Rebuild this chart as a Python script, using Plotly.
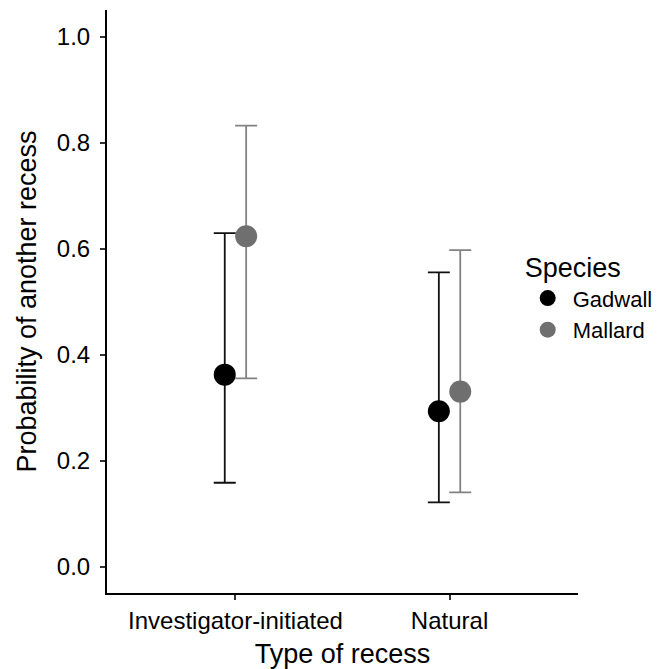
import plotly.graph_objects as go

categories = ["Investigator-initiated", "Natural"]
species = ["Gadwall", "Mallard"]
estimate = {"Gadwall": [0.362, 0.293], "Mallard": [0.623, 0.330]}
lower = {"Gadwall": [0.158, 0.121], "Mallard": [0.355, 0.140]}
upper = {"Gadwall": [0.629, 0.555], "Mallard": [0.832, 0.597]}
y_ticks = [0.0, 0.2, 0.4, 0.6, 0.8, 1.0]

marker_colors = {"Gadwall": "#000000", "Mallard": "#6f6f6f"}
bar_colors = {"Gadwall": "#111111", "Mallard": "#828282"}
dodge = {"Gadwall": -0.05, "Mallard": 0.05}

FONT = "Liberation Sans, Arial, sans-serif"

fig = go.Figure()
for sp in species:
    xs = [i + 1 + dodge[sp] for i in range(len(categories))]
    ys = estimate[sp]
    fig.add_trace(go.Scatter(
        x=xs, y=ys, mode="markers", name=sp,
        marker=dict(size=22, color=marker_colors[sp], line=dict(width=0)),
        error_y=dict(
            type="data", symmetric=False,
            array=[u - v for u, v in zip(upper[sp], ys)],
            arrayminus=[v - l for v, l in zip(ys, lower[sp])],
            color=bar_colors[sp], thickness=1.8, width=11,
        ),
    ))

fig.update_layout(
    width=665, height=669,
    margin=dict(l=107, r=87, t=10, b=76, autoexpand=False),
    plot_bgcolor="white", paper_bgcolor="white",
    font=dict(family=FONT, color="#000000"),
    showlegend=True,
    legend=dict(
        title=dict(text="Species", font=dict(size=27, family=FONT, color="#000")),
        font=dict(size=22, family=FONT, color="#000"),
        xref="container", yref="container",
        x=0.786, xanchor="left", y=0.638, yanchor="top",
        bgcolor="rgba(0,0,0,0)", borderwidth=0,
        itemwidth=40,
    ),
)
fig.update_xaxes(
    range=[0.4, 2.6], tickvals=[1, 2], ticktext=categories,
    showline=True, linecolor="#000", linewidth=2,
    ticks="outside", ticklen=5, tickwidth=1.5, tickcolor="#333",
    showgrid=False, zeroline=False, ticklabelstandoff=0, automargin=False,
    tickfont=dict(size=24, family=FONT, color="#000"),
    title=dict(text="Type of recess", font=dict(size=27, family=FONT, color="#000"), standoff=17),
)
fig.update_yaxes(
    range=[-0.05, 1.05], tickvals=y_ticks, ticktext=[f"{v:.1f}" for v in y_ticks],
    showline=True, linecolor="#000", linewidth=2,
    ticks="outside", ticklen=5, tickwidth=1.5, tickcolor="#333",
    showgrid=False, zeroline=False, ticklabelstandoff=5, automargin=False,
    tickfont=dict(size=24, family=FONT, color="#000"),
    title=dict(text="Probability of another recess", font=dict(size=27, family=FONT, color="#000"), standoff=12),
)

fig.write_html("out.html")
